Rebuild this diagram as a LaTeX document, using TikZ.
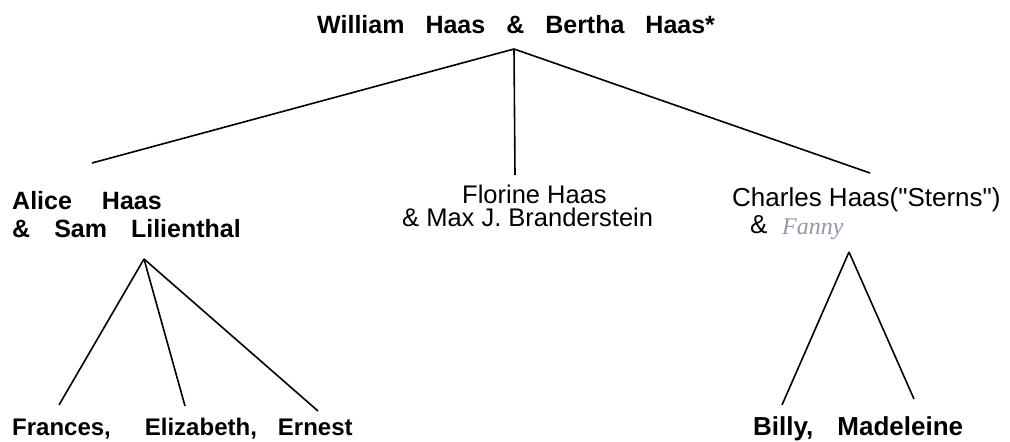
\documentclass[tikz,border=0pt]{standalone}
\usepackage{fontspec}
\setmainfont{Liberation Sans}[Ligatures=TeXOff]
\newfontfamily\handfont{Liberation Serif}
\definecolor{inkhand}{RGB}{150,150,170}
\newcommand\wgap[1]{\hspace*{#1pt}}
\begin{document}
\begin{tikzpicture}[x=1pt,y=-1pt,
  boldname/.style={font=\fontsize{25}{28}\selectfont\bfseries, inner sep=0pt, anchor=base west},
  boldkid/.style={font=\fontsize{24}{28}\selectfont\bfseries, inner sep=0pt, anchor=base west},
  plainname/.style={font=\fontsize{25.5}{28}\selectfont, inner sep=0pt, anchor=base west},
  link/.style={line width=1.6pt, black}]
\useasboundingbox (0,0) rectangle (1010,442);
% top
\node[boldname] (top) at (317,33) {William\wgap{21}Haas\wgap{21}\&\wgap{21}Bertha\wgap{21}Haas*};
\coordinate (apex) at (514,49);
% generation 2
\node[boldname] (alice1) at (12,209) {Alice\wgap{30}Haas};
\node[boldname] (alice2) at (12,237) {\&\wgap{24}Sam\wgap{24}Lilienthal};
\node[plainname] (flo1) at (462,203) {Florine Haas};
\node[plainname] (flo2) at (402,226) {\& Max J. Branderstein};
\node[plainname, font=\fontsize{26}{28}\selectfont] (cha1) at (732,206) {Charles Haas("Sterns")};
\node[plainname, font=\fontsize{26}{28}\selectfont] (cha2) at (750,233) {\&};
\node[font=\fontsize{24}{26}\selectfont\handfont\itshape, text=inkhand, anchor=base west, inner sep=0pt] (fanny) at (782,234) {Fanny};
\coordinate (aliceend) at (92,163);
\coordinate (floend) at (515,175);
\coordinate (chaend) at (870,173);
\draw[link] (apex) -- (aliceend);
\draw[link] (apex) -- (floend);
\draw[link] (apex) -- (chaend);
% Alice's children
\coordinate (aapex) at (144,259);
\coordinate (fr) at (59,405);
\coordinate (el) at (185,406);
\coordinate (er) at (318,411);
\draw[link] (aapex) -- (fr);
\draw[link] (aapex) -- (el);
\draw[link] (aapex) -- (er);
\node[boldkid] (kids1) at (12,435) {Frances,\wgap{34}Elizabeth,\wgap{21}Ernest};
% Charles' children
\coordinate (capex) at (849,252);
\coordinate (bi) at (782,405);
\coordinate (ma) at (914,399);
\draw[link] (capex) -- (bi);
\draw[link] (capex) -- (ma);
\node[boldkid, font=\fontsize{26}{28}\selectfont\bfseries] (kids2) at (753,435) {Billy,\wgap{24}Madeleine};
\end{tikzpicture}
\end{document}
